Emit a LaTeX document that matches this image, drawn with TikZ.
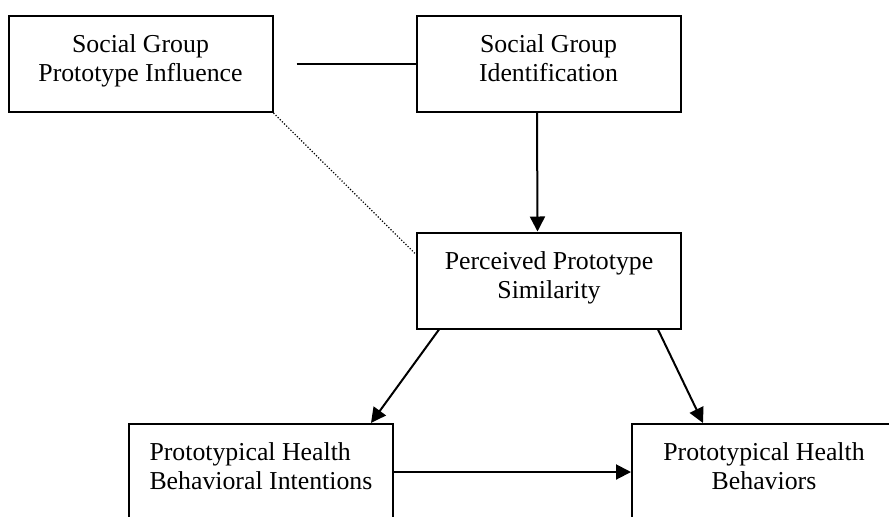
\documentclass[tikz,border=0pt]{standalone}
\usepackage{fontspec}
\setmainfont{Liberation Serif}
\usetikzlibrary{arrows.meta}
\newcommand{\twolines}[2]{\strut#1\\\strut#2}
% text block lifted slightly above the middle of its box
\newcommand{\boxtext}[2]{\raisebox{-1.7pt}[0pt][0pt]{\parbox{#1}{#2}}}
\begin{document}
\begin{tikzpicture}[x=0.5pt,y=-0.5pt,
  box/.style={draw,line width=1pt,minimum width=132pt,minimum height=48pt,
    inner sep=0pt,align=center,font=\fontsize{12.9}{14.5}\selectfont},
  link/.style={line width=1pt},
  arr/.style={line width=1pt,-{Triangle[length=7.5pt,width=7.5pt]}},
  weak/.style={line width=0.6pt,dash pattern=on 0.6pt off 0.9pt}]
  \clip (0,0) rectangle (889,516);
  \fill[white] (0,0) rectangle (889,516);

  % constructs (struts keep the baselines level from box to box)
  \node[box] (infl) at (140.5,64)
    {\boxtext{130pt}{\centering\twolines{Social Group}{Prototype Influence}}};
  \node[box] (ident) at (548.5,64)
    {\boxtext{130pt}{\centering\twolines{Social Group}{Identification}}};
  \node[box] (simil) at (549,280.5)
    {\boxtext{130pt}{\centering\twolines{Perceived Prototype}{Similarity}}};
  \node[box] (intent) at (261,472)
    {\boxtext{111.5pt}{\raggedright\twolines{Prototypical Health}{Behavioral Intentions}}};
  \node[box] (behav) at (764,472)
    {\boxtext{130pt}{\centering\twolines{Prototypical Health}{Behaviors}}};

  % paths
  \draw[link] ([xshift=11.5pt]infl.east) -- (ident.west);
  \draw[weak] (infl.south east) -- ([yshift=13pt]simil.west);
  \draw[arr] ([xshift=-5.75pt]ident.south) -- ([xshift=-5.75pt]simil.north);
  \draw[arr] ([xshift=11.5pt]simil.south west) -- ([xshift=-11.5pt]intent.north east);
  \draw[arr] ([xshift=-12pt]simil.south east) -- ([xshift=36pt]behav.north west);
  \draw[arr] (intent.east) -- (behav.west);
\end{tikzpicture}
\end{document}
